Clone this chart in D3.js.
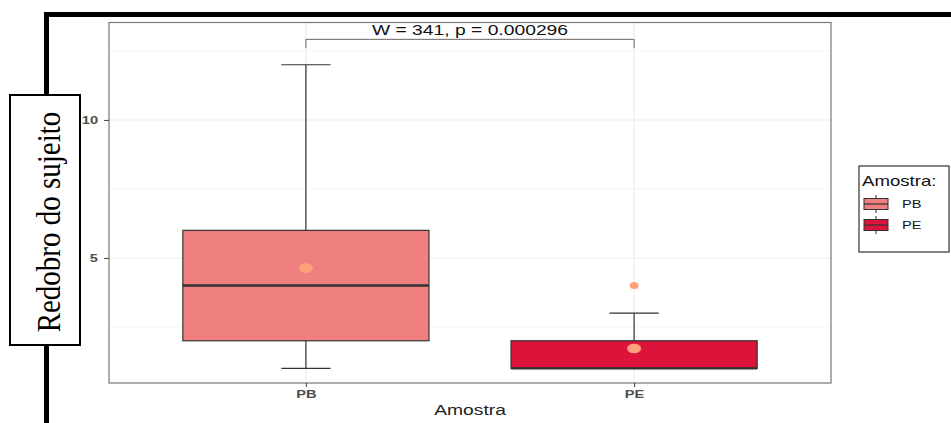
<!DOCTYPE html>
<html>
<head>
<meta charset="utf-8">
<script src="https://cdn.jsdelivr.net/npm/d3@7"></script>
<style>
  body { margin: 0; background: #fff; }
  svg { display: block; }
</style>
</head>
<body>
<div id="chart-area"></div>
<script>
// data
let categories = ["PB", "PE"];
let whiskerLow = [1, 1];
let q1 = [2, 1];
let median = [4, 1];
let q3 = [6, 2];
let whiskerHigh = [12, 3];
let means = [4.63, 1.72];
let outliers = [[], [4]];
let fills = ["#F08080", "#DC143C"];
let yTicks = [5, 10];
let testLabel = "W = 341, p = 0.000296";
let bracketY = 12.92, bracketDrop = 12.6;

let width = 951, height = 423;
let panel = {left: 109, right: 831, top: 22.5, bottom: 383};
let stretch = 1.33; // the picture is wider than tall, text looks stretched

let svg = d3.select("#chart-area").append("svg")
    .attr("width", width)
    .attr("height", height);

// scales
let x = d3.scalePoint()
    .domain(categories)
    .range([panel.left, panel.right])
    .padding(0.6);   // ggplot discrete expansion of 0.6
let step = x.step();
let cx = d => x(d);

let y = d3.scaleLinear()
    .domain([0.47, 13.53])
    .range([panel.bottom, panel.top]);

function wideText(sel, px, py) {
  return sel.attr("transform", "translate(" + px + "," + py + ")scale(" + stretch + ",1)");
}

// grid
let grid = svg.append("g");
let minor = [2.5, 7.5, 12.5];
grid.selectAll(".minor").data(minor).enter().append("line")
    .attr("x1", panel.left).attr("x2", panel.right)
    .attr("y1", d => y(d)).attr("y2", d => y(d))
    .attr("stroke", "#f2f2f2").attr("stroke-width", 0.8);
grid.selectAll(".major").data(yTicks).enter().append("line")
    .attr("x1", panel.left).attr("x2", panel.right)
    .attr("y1", d => y(d)).attr("y2", d => y(d))
    .attr("stroke", "#ebebeb").attr("stroke-width", 1.1);
grid.selectAll(".vmajor").data(categories).enter().append("line")
    .attr("x1", d => cx(d)).attr("x2", d => cx(d))
    .attr("y1", panel.top).attr("y2", panel.bottom)
    .attr("stroke", "#ebebeb").attr("stroke-width", 1.1);

// boxes
let boxW = step * 0.75;
let capW = step * 0.15;
let g = svg.append("g");
categories.forEach(function(c, i) {
  let xc = cx(c);
  // error bar (whisker + caps)
  g.append("line").attr("x1", xc).attr("x2", xc)
      .attr("y1", y(whiskerLow[i])).attr("y2", y(whiskerHigh[i]))
      .attr("stroke", "#333").attr("stroke-width", 1.2);
  [whiskerLow[i], whiskerHigh[i]].forEach(function(v) {
    g.append("line").attr("x1", xc - capW / 2).attr("x2", xc + capW / 2)
        .attr("y1", y(v)).attr("y2", y(v))
        .attr("stroke", "#333").attr("stroke-width", 1.2);
  });
  g.append("rect")
      .attr("x", xc - boxW / 2).attr("width", boxW)
      .attr("y", y(q3[i])).attr("height", y(q1[i]) - y(q3[i]))
      .attr("fill", fills[i]).attr("stroke", "#333").attr("stroke-width", 1.2);
  g.append("line").attr("x1", xc - boxW / 2).attr("x2", xc + boxW / 2)
      .attr("y1", y(median[i])).attr("y2", y(median[i]))
      .attr("stroke", "#333").attr("stroke-width", 2.4);
  outliers[i].forEach(function(v) {
    g.append("ellipse").attr("cx", xc).attr("cy", y(v))
        .attr("rx", 4.5).attr("ry", 3.5).attr("fill", "#FFA07A");
  });
  g.append("ellipse").attr("cx", xc).attr("cy", y(means[i]))
      .attr("rx", 7).attr("ry", 4.8).attr("fill", "#FFA07A");
});

// panel border
svg.append("rect")
    .attr("x", panel.left).attr("y", panel.top)
    .attr("width", panel.right - panel.left).attr("height", panel.bottom - panel.top)
    .attr("fill", "none").attr("stroke", "#777").attr("stroke-width", 1.2);

// comparison bracket
let b = svg.append("g");
b.append("path")
    .attr("d", "M" + cx("PB") + "," + y(bracketDrop) + "V" + y(bracketY) +
               "H" + cx("PE") + "V" + y(bracketDrop))
    .attr("fill", "none").attr("stroke", "#666").attr("stroke-width", 1);
b.append("text")
    .call(wideText, (cx("PB") + cx("PE")) / 2, y(bracketY) - 4)
    .attr("text-anchor", "middle")
    .style("font-family", "Liberation Sans, Arial, sans-serif")
    .style("font-size", "14.5px").attr("fill", "#111")
    .text(testLabel);

// axes
let yAxis = d3.axisLeft(y).tickValues(yTicks).tickSize(5).tickPadding(3);
let yg = svg.append("g")
    .attr("transform", "translate(" + panel.left + ",0)")
    .call(yAxis);
let xAxis = d3.axisBottom(x).tickSize(4).tickPadding(3);
let xg = svg.append("g")
    .attr("transform", "translate(0," + panel.bottom + ")")
    .call(xAxis);
[yg, xg].forEach(function(a) {
  a.select(".domain").remove();
  a.selectAll(".tick line").attr("stroke", "#444");
  a.selectAll(".tick text")
      .attr("fill", "#4d4d4d")
      .style("font-family", "Liberation Sans, Arial, sans-serif")
      .style("font-size", "11px").style("font-weight", "bold");
});
xg.selectAll(".tick text").attr("transform", "scale(" + stretch + ",1)");
yg.selectAll(".tick text").attr("x", -11 / stretch).attr("transform", "scale(" + stretch + ",1)");

svg.append("text")
    .call(wideText, (cx("PB") + cx("PE")) / 2, 415)
    .attr("text-anchor", "middle")
    .style("font-family", "Liberation Sans, Arial, sans-serif")
    .style("font-size", "14.5px").attr("fill", "#222")
    .text("Amostra");

// legend
let lg = svg.append("g");
lg.append("rect").attr("x", 859).attr("y", 166).attr("width", 90).attr("height", 86)
    .attr("fill", "#fff").attr("stroke", "#333").attr("stroke-width", 1.2);
lg.append("text").call(wideText, 862, 186)
    .style("font-family", "Liberation Sans, Arial, sans-serif")
    .style("font-size", "14px").attr("fill", "#111")
    .text("Amostra:");
categories.forEach(function(c, i) {
  let ky = 204 + i * 21;
  lg.append("line").attr("x1", 876).attr("x2", 876).attr("y1", ky - 9).attr("y2", ky + 9)
      .attr("stroke", "#333").attr("stroke-width", 1);
  lg.append("rect").attr("x", 864).attr("y", ky - 5.5).attr("width", 24).attr("height", 11)
      .attr("fill", fills[i]).attr("stroke", "#333").attr("stroke-width", 1);
  lg.append("line").attr("x1", 864).attr("x2", 888).attr("y1", ky).attr("y2", ky)
      .attr("stroke", "#333").attr("stroke-width", 1.2);
  lg.append("text").call(wideText, 902, ky + 4)
      .style("font-family", "Liberation Sans, Arial, sans-serif")
      .style("font-size", "11px").attr("fill", "#111")
      .text(c);
});

// frame lines and y title box
svg.append("path")
    .attr("d", "M46.5,423V14.5H951")
    .attr("fill", "none").attr("stroke", "#000").attr("stroke-width", 5);
svg.append("rect").attr("x", 10).attr("y", 95).attr("width", 70).attr("height", 250)
    .attr("fill", "#fff").attr("stroke", "#000").attr("stroke-width", 2);
svg.append("text")
    .attr("transform", "translate(60,222)rotate(-90)scale(1,1.15)")
    .attr("text-anchor", "middle")
    .style("font-family", "Liberation Serif, Times New Roman, serif")
    .style("font-size", "29px").attr("fill", "#000")
    .text("Redobro do sujeito");
</script>
</body>
</html>
